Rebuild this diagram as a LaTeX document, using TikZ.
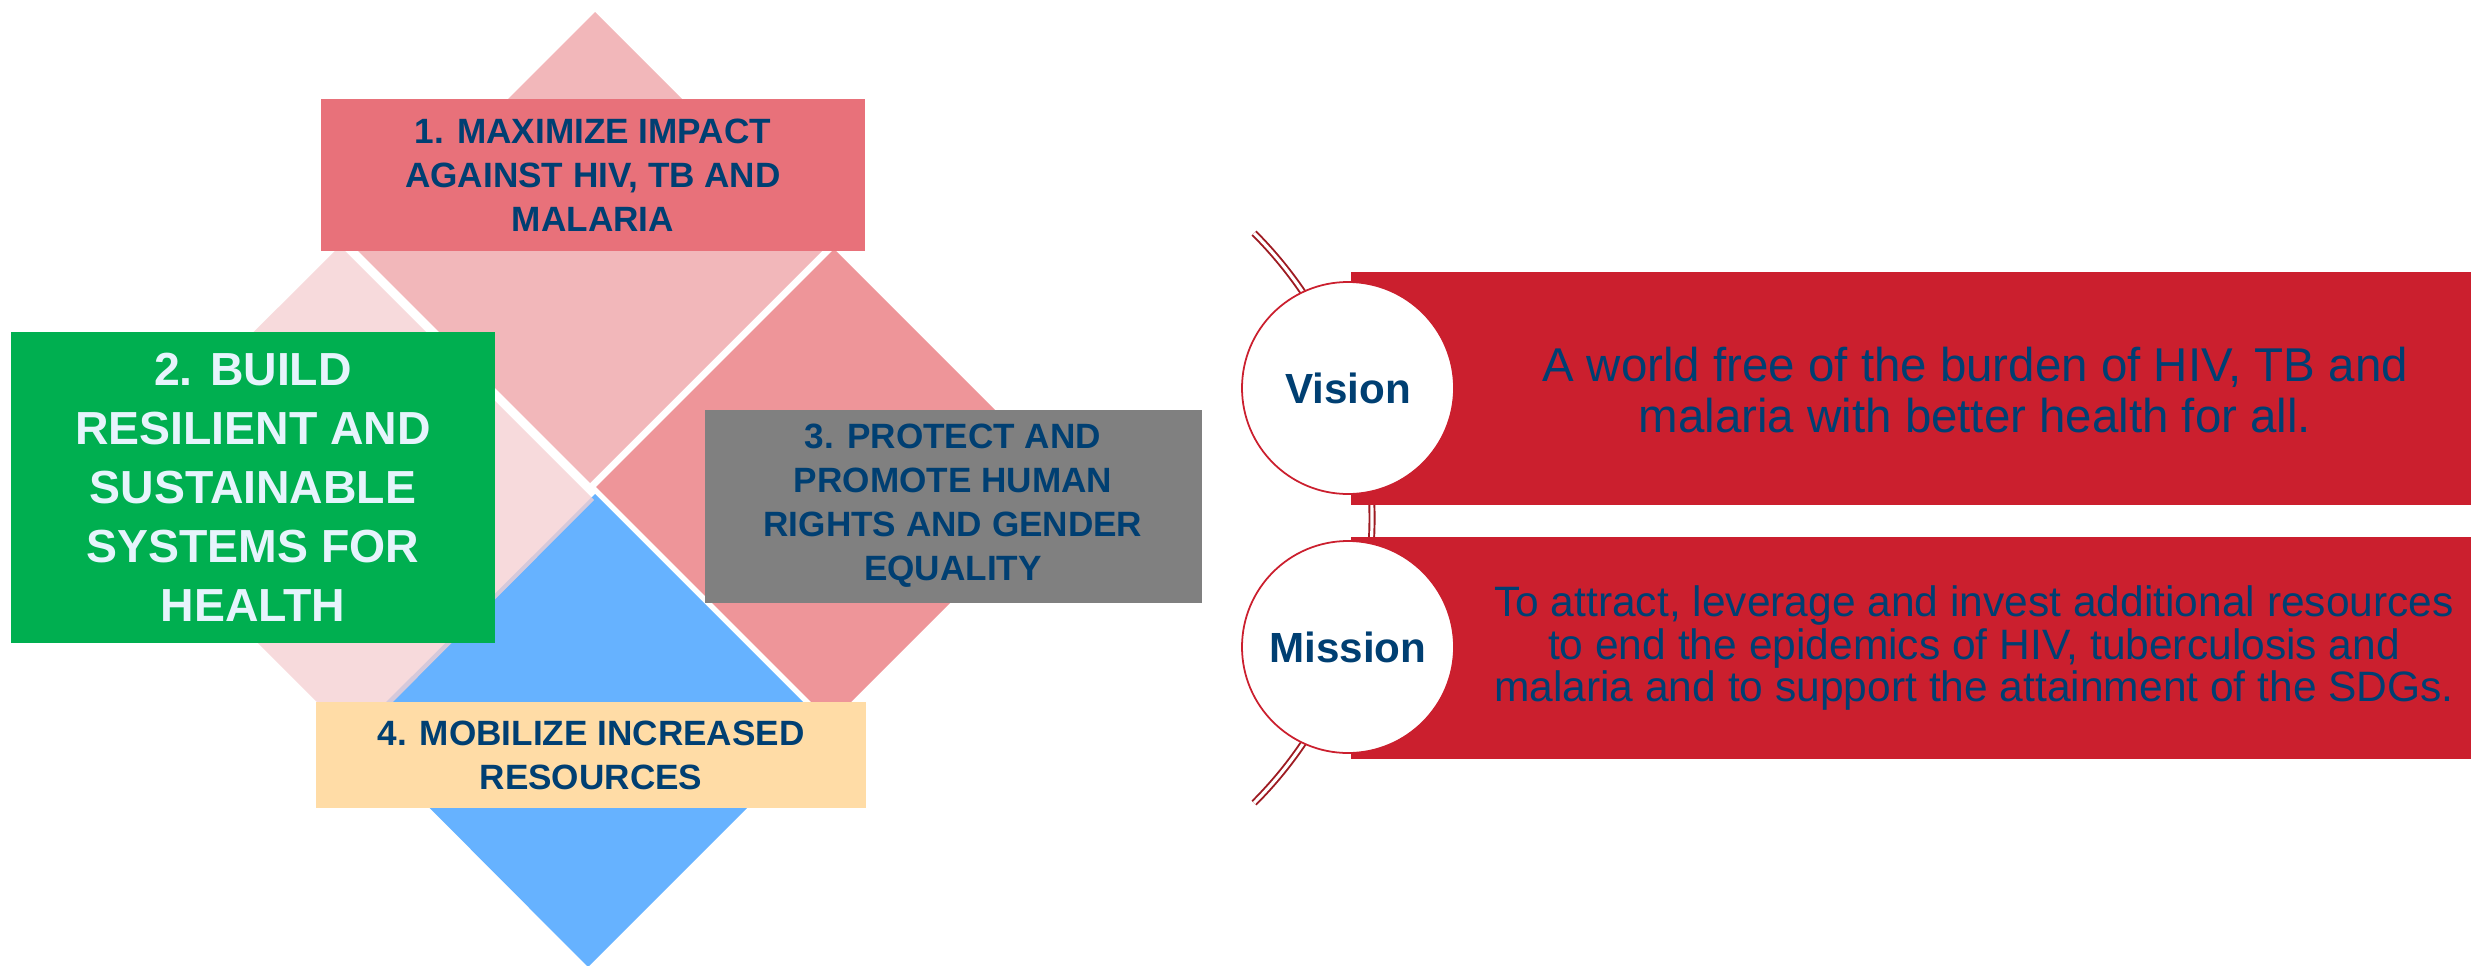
\documentclass[tikz,border=0pt]{standalone}
\usepackage{fontspec}
\setmainfont{Liberation Sans}

\definecolor{petaltop}{HTML}{F2B7BA}
\definecolor{petalleft}{HTML}{F5D0D2}
\definecolor{petalright}{HTML}{EE9599}
\definecolor{petalblue}{HTML}{66B2FF}
\definecolor{goalred}{HTML}{E8717A}
\definecolor{goalgreen}{HTML}{00AF50}
\definecolor{goalgrey}{HTML}{808080}
\definecolor{goalsand}{HTML}{FFDCA6}
\definecolor{goalnavy}{HTML}{003F72}
\definecolor{goallight}{HTML}{E6F4FC}
\definecolor{barred}{HTML}{CB1F2E}
\definecolor{ringred}{HTML}{9E1B22}

\begin{document}
\begin{tikzpicture}[
  x=0.1mm,
  y=-0.1mm,
  line join=round,
  goalbox/.style={rectangle,inner sep=0pt,align=center,text=goalnavy,
    font=\bfseries\fontsize{10}{12.5}\selectfont},
  bigbox/.style={goalbox,text=goallight,font=\bfseries\fontsize{13.2}{16.8}\selectfont},
  bar/.style={rectangle,fill=barred,inner sep=0pt,anchor=north west},
  bartext/.style={align=center,text=goalnavy,inner sep=0pt},
  bullet/.style={circle,draw=barred,line width=0.5pt,fill=white,inner sep=0pt,
    minimum size=21.2mm,text=goalnavy,font=\bfseries\fontsize{12}{14}\selectfont},
  ringline/.style={draw=ringred,line width=0.55pt,double=white,double distance=0.9pt}
]
  \useasboundingbox (0,0) rectangle (2471,966);

  % Four petals of the strategy diamond.
  \fill[petaltop] (595,12) -- (828,245) -- (590,483) -- (357,250) -- cycle;
  \fill[petalright] (834,249) -- (1069,484) -- (831,722) -- (596,487) -- cycle;
  \fill[petalblue] (595,494) -- (828,727) -- (588,967) -- (355,733) -- cycle;
  \fill[petalleft,opacity=0.78] (340,246) -- (594,500) -- (355,740) -- (100,485) -- cycle;

  % Goal labels laid over the petals.
  \node[goalbox,fill=goalred,minimum width=54.4mm,minimum height=15.2mm] (goalOne) at (593,175)
    {1. MAXIMIZE IMPACT\\AGAINST HIV, TB AND\\MALARIA};
  \node[bigbox,fill=goalgreen,minimum width=48.4mm,minimum height=31.1mm] (goalTwo) at (253,487)
    {2. BUILD\\RESILIENT AND\\SUSTAINABLE\\SYSTEMS FOR\\HEALTH};
  \node[goalbox,fill=goalgrey,minimum width=49.7mm,minimum height=19.3mm] (goalThree) at (953,506)
    {3. PROTECT AND\\PROMOTE HUMAN\\RIGHTS AND GENDER\\EQUALITY};
  \node[goalbox,fill=goalsand,minimum width=55.0mm,minimum height=10.6mm] (goalFour) at (591,755)
    {4. MOBILIZE INCREASED\\RESOURCES};

  % Ring behind the two statements; only its ends and the gap show.
  \coordinate (ringLow) at (1254,803);
  \draw[ringline] (ringLow) arc[start angle=45,end angle=-45,radius=403];

  % Statement bars.
  \node[bar,minimum width=112.1mm,minimum height=23.3mm] (visionBar) at (1350,271) {};
  \node[bar,minimum width=112.1mm,minimum height=22.2mm] (missionBar) at (1350,536) {};

  \node[bartext,font=\fontsize{13.5}{14.5}\selectfont] (visionText) at (1975,390)
    {A world free of the burden of HIV, TB and\\malaria with better health for all.};
  \node[bartext,font=\fontsize{12.1}{12.1}\selectfont] (missionText) at (1974,648)
    {To attract, leverage and invest additional resources\\to end the epidemics of HIV, tuberculosis and\\malaria and to support the attainment of the SDGs.};

  \node[bullet] (vision) at (1348,388) {Vision};
  \node[bullet] (mission) at (1348,647) {Mission};
\end{tikzpicture}
\end{document}
